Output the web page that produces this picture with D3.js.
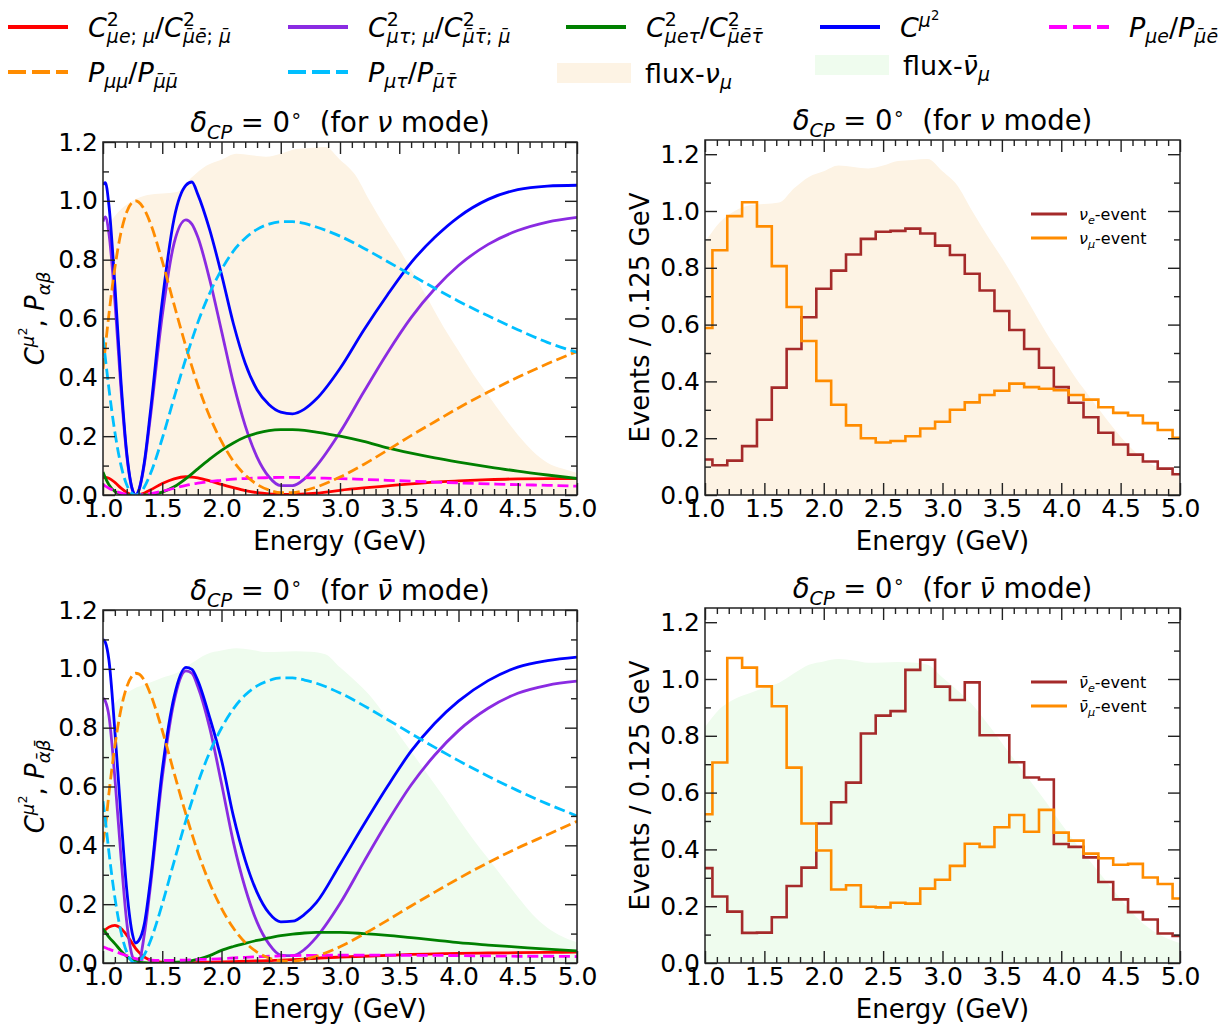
<!DOCTYPE html>
<html><head><meta charset="utf-8">
<script src="https://cdn.jsdelivr.net/npm/d3@7/dist/d3.min.js"></script>
<style>html,body{margin:0;padding:0;background:#fff}svg{display:block}</style>
</head><body>
<svg id="chart" width="1232" height="1032"></svg>
<script>
// ================= DATA =================
const energyGrid = [1.0,1.02,1.05,1.1,1.15,1.2,1.25,1.275,1.3,1.35,1.4,1.5,1.6,1.7,1.75,1.8,1.9,2.0,2.1,2.2,2.3,2.4,2.5,2.6,2.7,2.8,3.0,3.2,3.4,3.6,3.8,4.0,4.25,4.5,4.75,5.0];

// neutrino mode
const nuC2mue   = [0.059,0.060,0.057,0.043,0.024,0.009,0.001,0.000,0.001,0.007,0.017,0.039,0.055,0.062,0.061,0.058,0.048,0.036,0.025,0.015,0.008,0.004,0.002,0.002,0.004,0.006,0.016,0.024,0.031,0.038,0.044,0.048,0.052,0.055,0.056,0.056];
const nuC2mutau = [0.930,0.945,0.890,0.661,0.370,0.136,0.015,0.000,0.013,0.108,0.265,0.610,0.856,0.935,0.921,0.877,0.733,0.558,0.381,0.236,0.129,0.062,0.032,0.032,0.055,0.098,0.213,0.350,0.483,0.603,0.701,0.780,0.852,0.899,0.928,0.944];
const nuC2etau  = [0.078,0.058,0.035,0.012,0.003,0.000,0.000,0.000,0.000,0.000,0.001,0.010,0.028,0.056,0.072,0.089,0.122,0.152,0.177,0.197,0.210,0.219,0.222,0.222,0.220,0.214,0.200,0.182,0.160,0.142,0.126,0.112,0.096,0.081,0.068,0.056];
const nuCmu2    = [1.055,1.062,0.985,0.716,0.397,0.145,0.016,0.000,0.014,0.115,0.283,0.659,0.940,1.053,1.064,1.022,0.902,0.750,0.583,0.448,0.358,0.308,0.282,0.276,0.292,0.326,0.430,0.560,0.680,0.790,0.876,0.945,1.005,1.038,1.050,1.053];
const nuPmue    = [0.035,0.030,0.023,0.014,0.007,0.002,0.000,0.000,0.000,0.002,0.005,0.013,0.023,0.033,0.037,0.040,0.046,0.050,0.054,0.056,0.058,0.059,0.060,0.060,0.059,0.058,0.056,0.053,0.050,0.047,0.044,0.041,0.038,0.035,0.033,0.030];
const nuPmumu   = [0.428,0.504,0.614,0.772,0.889,0.962,0.996,1.000,0.996,0.970,0.924,0.795,0.647,0.504,0.437,0.374,0.267,0.182,0.115,0.068,0.036,0.017,0.008,0.008,0.015,0.027,0.061,0.104,0.152,0.202,0.249,0.296,0.350,0.400,0.446,0.488];
const nuPmutau  = [0.536,0.465,0.362,0.214,0.104,0.035,0.004,0.000,0.003,0.028,0.072,0.192,0.331,0.465,0.527,0.586,0.686,0.766,0.829,0.873,0.903,0.921,0.929,0.929,0.923,0.911,0.880,0.839,0.794,0.748,0.703,0.659,0.609,0.562,0.519,0.485];

// antineutrino mode
const nbC2mue   = [0.105,0.113,0.122,0.128,0.118,0.095,0.065,0.050,0.038,0.020,0.010,0.003,0.001,0.001,0.001,0.002,0.003,0.004,0.005,0.006,0.007,0.008,0.010,0.011,0.013,0.016,0.020,0.023,0.026,0.029,0.031,0.033,0.034,0.035,0.036,0.037];
const nbC2mutau = [0.900,0.890,0.840,0.630,0.370,0.140,0.020,0.006,0.004,0.100,0.260,0.630,0.890,0.993,0.985,0.940,0.800,0.610,0.411,0.255,0.139,0.065,0.027,0.025,0.046,0.087,0.202,0.343,0.480,0.605,0.707,0.790,0.866,0.917,0.944,0.958];
const nbC2etau  = [0.117,0.105,0.088,0.066,0.042,0.022,0.009,0.005,0.003,0.001,0.000,0.000,0.002,0.005,0.008,0.012,0.025,0.043,0.056,0.067,0.077,0.085,0.093,0.098,0.102,0.104,0.104,0.100,0.094,0.086,0.078,0.069,0.061,0.054,0.047,0.041];
const nbCmu2    = [1.100,1.090,1.030,0.790,0.510,0.250,0.095,0.068,0.075,0.135,0.280,0.655,0.905,1.005,0.998,0.960,0.835,0.690,0.500,0.350,0.240,0.170,0.140,0.142,0.165,0.205,0.335,0.470,0.600,0.720,0.815,0.890,0.960,1.006,1.028,1.040];
const nbPmue    = [0.055,0.052,0.047,0.040,0.032,0.025,0.018,0.015,0.013,0.011,0.010,0.009,0.009,0.010,0.011,0.012,0.013,0.015,0.017,0.019,0.021,0.023,0.024,0.025,0.026,0.026,0.027,0.027,0.027,0.026,0.026,0.025,0.024,0.023,0.023,0.022];
const nbPmumu   = [0.410,0.463,0.576,0.737,0.859,0.938,0.978,0.985,0.983,0.960,0.915,0.791,0.646,0.505,0.439,0.377,0.271,0.186,0.119,0.070,0.037,0.017,0.007,0.006,0.012,0.023,0.055,0.098,0.145,0.194,0.241,0.287,0.341,0.391,0.436,0.482];
const nbPmutau  = [0.550,0.485,0.377,0.223,0.109,0.037,0.004,0.000,0.004,0.029,0.075,0.200,0.345,0.485,0.550,0.611,0.716,0.799,0.864,0.911,0.942,0.960,0.969,0.969,0.962,0.951,0.918,0.875,0.828,0.780,0.733,0.688,0.635,0.586,0.541,0.500];

// event histograms (centre of each 0.125 GeV bin)
const binCenters = [1.0,1.125,1.25,1.375,1.5,1.625,1.75,1.875,2.0,2.125,2.25,2.375,2.5,2.625,2.75,2.875,3.0,3.125,3.25,3.375,3.5,3.625,3.75,3.875,4.0,4.125,4.25,4.375,4.5,4.625,4.75,4.875,5.0];
const nuEventsE    = [0.125,0.105,0.121,0.172,0.265,0.378,0.514,0.626,0.726,0.790,0.847,0.902,0.927,0.930,0.938,0.921,0.878,0.845,0.779,0.720,0.648,0.581,0.514,0.448,0.380,0.325,0.274,0.219,0.178,0.142,0.118,0.093,0.073];
const nuEventsMu   = [0.588,0.862,0.982,1.031,0.946,0.806,0.662,0.542,0.402,0.318,0.245,0.200,0.185,0.190,0.207,0.234,0.258,0.300,0.326,0.352,0.367,0.392,0.380,0.374,0.369,0.352,0.336,0.309,0.289,0.280,0.253,0.229,0.201];
const nbEventsE    = [0.334,0.234,0.181,0.106,0.107,0.161,0.271,0.336,0.491,0.566,0.635,0.808,0.871,0.887,1.032,1.068,0.973,0.926,0.988,0.802,0.802,0.707,0.653,0.646,0.419,0.409,0.372,0.285,0.224,0.179,0.153,0.104,0.095];
const nbEventsMu   = [0.524,0.706,1.074,1.040,0.974,0.904,0.688,0.491,0.396,0.259,0.274,0.198,0.196,0.212,0.209,0.262,0.293,0.342,0.420,0.409,0.478,0.521,0.462,0.539,0.459,0.431,0.385,0.369,0.346,0.349,0.301,0.278,0.227];

// fluxes (arbitrary normalisation, same energy points)
const fluxNu    = [0.89,0.96,1.00,1.02,1.025,1.03,1.08,1.12,1.14,1.16,1.155,1.15,1.16,1.176,1.18,1.183,1.14,1.09,1.00,0.915,0.835,0.75,0.66,0.57,0.49,0.41,0.34,0.27,0.205,0.15,0.11,0.09,0.075];
const fluxNubar = [0.83,0.895,0.93,0.95,0.97,0.987,1.02,1.05,1.062,1.07,1.065,1.057,1.058,1.06,1.058,1.05,1.005,0.96,0.91,0.845,0.775,0.705,0.635,0.565,0.49,0.42,0.355,0.29,0.225,0.165,0.12,0.09,0.07];

// ticks
const xMajorTicks = [1.0,1.5,2.0,2.5,3.0,3.5,4.0,4.5,5.0];
const xMinorTicks = [1.1,1.2,1.3,1.4,1.6,1.7,1.8,1.9,2.1,2.2,2.3,2.4,2.6,2.7,2.8,2.9,3.1,3.2,3.3,3.4,3.6,3.7,3.8,3.9,4.1,4.2,4.3,4.4,4.6,4.7,4.8,4.9];
const yMajorTicks = [0.0,0.2,0.4,0.6,0.8,1.0,1.2];
const yMinorTicks = [0.1,0.3,0.5,0.7,0.9,1.1];

// ================= DRAWING =================
const FONT = "'DejaVu Sans', 'Liberation Sans', sans-serif";
const svg = d3.select('#chart');
const COL = {red:'#ff0000', purple:'#8a2be2', green:'#008000', blue:'#0000ff', magenta:'#ff00ff', orange:'#ff8c00', cyan:'#00bfff', brown:'#a52a2a', fluxNu:'#fdf3e4', fluxNubar:'#effcee'};
const DASH = '11,4.8';

// simple math-text layout with italic, sub/superscripts
function mtext(parent, x, y, tokens, size, anchor) {
  const t = parent.append('text').attr('x', x).attr('y', y)
    .attr('font-family', FONT).attr('font-size', size).attr('fill', '#000')
    .style('white-space', 'pre');
  let cur = 0, pend = 0;
  function add(str, ital, fs, off) {
    const sp = t.append('tspan').text(str).attr('font-size', fs)
      .attr('font-style', ital ? 'italic' : 'normal');
    if (off !== cur) { sp.attr('dy', off - cur); cur = off; }
    if (pend) { sp.attr('dx', pend); pend = 0; }
    return sp.node().getComputedTextLength();
  }
  function run(list, fs, off) {
    let w = 0;
    for (const tk of list) {
      if (tk.i !== undefined) w += add(tk.i, true, fs, off);
      else if (tk.r !== undefined) w += add(tk.r, false, fs, off);
      else {
        const sfs = fs * 0.7;
        let ws = 0, wb = 0;
        if (tk.sup) ws = run(tk.sup, sfs, off - fs * (tk.sub ? 0.42 : 0.38));
        if (tk.sub) { if (tk.sup) pend -= ws; wb = run(tk.sub, sfs, off + fs * 0.24); }
        const m = Math.max(ws, wb);
        if (tk.sup && tk.sub) pend += m - wb;
        w += m;
      }
    }
    return w;
  }
  const w = run(tokens, size, 0);
  if (anchor === 'middle') t.attr('x', x - w / 2);
  else if (anchor === 'end') t.attr('x', x - w);
  return t;
}

const MB = '\u0304'; // combining macron
const panels = [
  {x0:103, x1:577, y0:142, y1:495, ymax:1.2,  kind:'curves', mode:'nu'},
  {x0:705, x1:1180, y0:140, y1:495, ymax:1.25, kind:'hist', mode:'nu'},
  {x0:103, x1:577, y0:610, y1:963, ymax:1.2,  kind:'curves', mode:'nb'},
  {x0:705, x1:1180, y0:608, y1:963, ymax:1.25, kind:'hist', mode:'nb'}
];

panels.forEach((p, idx) => {
  const g = svg.append('g');
  const x = d3.scaleLinear([1, 5], [p.x0, p.x1]);
  const y = d3.scaleLinear([0, p.ymax], [p.y1, p.y0]);
  const cid = 'clip' + idx;
  svg.append('clipPath').attr('id', cid).append('rect')
    .attr('x', p.x0).attr('y', p.y0).attr('width', p.x1 - p.x0).attr('height', p.y1 - p.y0);
  const plot = g.append('g').attr('clip-path', `url(#${cid})`);

  // flux area
  const flux = p.mode === 'nu' ? fluxNu : fluxNubar;
  const area = d3.area().x((d, i) => x(binCenters[i])).y0(y(0)).y1(d => y(d)).curve(d3.curveMonotoneX);
  plot.append('path').attr('d', area(flux)).attr('fill', p.mode === 'nu' ? COL.fluxNu : COL.fluxNubar);

  if (p.kind === 'curves') {
    const series = p.mode === 'nu'
      ? [[nuC2mue, COL.red, null], [nuC2mutau, COL.purple, null], [nuC2etau, COL.green, null], [nuCmu2, COL.blue, null],
         [nuPmue, COL.magenta, DASH], [nuPmumu, COL.orange, DASH], [nuPmutau, COL.cyan, DASH]]
      : [[nbC2mue, COL.red, null], [nbC2mutau, COL.purple, null], [nbC2etau, COL.green, null], [nbCmu2, COL.blue, null],
         [nbPmue, COL.magenta, DASH], [nbPmumu, COL.orange, DASH], [nbPmutau, COL.cyan, DASH]];
    const line = d3.line().x((d, i) => x(energyGrid[i])).y(d => y(d)).curve(d3.curveMonotoneX);
    series.forEach(([vals, c, dash]) => {
      const path = plot.append('path').attr('d', line(vals)).attr('fill', 'none')
        .attr('stroke', c).attr('stroke-width', 2.8).attr('stroke-linejoin', 'round');
      if (dash) path.attr('stroke-dasharray', dash);
    });
  } else {
    const ev = p.mode === 'nu' ? [nuEventsE, nuEventsMu] : [nbEventsE, nbEventsMu];
    const step = d3.line().x((d, i) => x(binCenters[i])).y(d => y(d)).curve(d3.curveStep);
    [[ev[0], COL.brown], [ev[1], COL.orange]].forEach(([vals, c]) => {
      plot.append('path').attr('d', step(vals)).attr('fill', 'none')
        .attr('stroke', c).attr('stroke-width', 2.6).attr('stroke-linejoin', 'miter');
    });
    // legend inside
    const lg = g.append('g');
    const ly = p.y0 + 74;
    const labels = p.mode === 'nu'
      ? [[[{i:'ν'},{sub:[{i:'e'}]},{r:'-event'}], COL.brown], [[{i:'ν'},{sub:[{i:'μ'}]},{r:'-event'}], COL.orange]]
      : [[[{i:'ν'+MB},{sub:[{i:'e'}]},{r:'-event'}], COL.brown], [[{i:'ν'+MB},{sub:[{i:'μ'}]},{r:'-event'}], COL.orange]];
    labels.forEach(([tk, c], k) => {
      const yy = ly + k * 24;
      lg.append('line').attr('x1', 1031).attr('x2', 1067).attr('y1', yy).attr('y2', yy)
        .attr('stroke', c).attr('stroke-width', 3);
      mtext(lg, 1079, yy + 6, tk, 16, 'start');
    });
  }

  // axes
  function styleAxis(sel) {
    sel.select('.domain').remove();
    sel.selectAll('.tick line').attr('stroke', '#222').attr('stroke-width', 1.4);
    sel.selectAll('.tick text').attr('font-family', FONT).attr('font-size', 25).attr('fill', '#000');
    sel.attr('font-size', null).attr('font-family', null);
  }
  const ax = g.append('g');
  ax.append('g').attr('transform', `translate(0,${p.y1})`).call(d3.axisBottom(x).tickValues(xMinorTicks).tickSize(-6).tickFormat('')).call(styleAxis);
  ax.append('g').attr('transform', `translate(0,${p.y1})`).call(d3.axisBottom(x).tickValues(xMajorTicks).tickSize(-12).tickPadding(4).tickFormat(d3.format('.1f'))).call(styleAxis);
  ax.append('g').attr('transform', `translate(0,${p.y0})`).call(d3.axisTop(x).tickValues(xMinorTicks).tickSize(-6).tickFormat('')).call(styleAxis);
  ax.append('g').attr('transform', `translate(0,${p.y0})`).call(d3.axisTop(x).tickValues(xMajorTicks).tickSize(-12).tickFormat('')).call(styleAxis);
  ax.append('g').attr('transform', `translate(${p.x0},0)`).call(d3.axisLeft(y).tickValues(yMinorTicks).tickSize(-6).tickFormat('')).call(styleAxis);
  ax.append('g').attr('transform', `translate(${p.x0},0)`).call(d3.axisLeft(y).tickValues(yMajorTicks).tickSize(-12).tickPadding(5).tickFormat(d3.format('.1f'))).call(styleAxis);
  ax.append('g').attr('transform', `translate(${p.x1},0)`).call(d3.axisRight(y).tickValues(yMinorTicks).tickSize(-6).tickFormat('')).call(styleAxis);
  ax.append('g').attr('transform', `translate(${p.x1},0)`).call(d3.axisRight(y).tickValues(yMajorTicks).tickSize(-12).tickFormat('')).call(styleAxis);
  g.append('rect').attr('x', p.x0).attr('y', p.y0).attr('width', p.x1 - p.x0).attr('height', p.y1 - p.y0)
    .attr('fill', 'none').attr('stroke', '#222').attr('stroke-width', 1.5);

  // title
  const cx = (p.x0 + p.x1) / 2;
  const nuTok = p.mode === 'nu' ? 'ν' : 'ν' + MB;
  mtext(g, cx, p.y0 - 10, [{i:'δ'},{sub:[{i:'CP'}]},{r:' = 0'},{sup:[{r:'∘'}]},{r:'  (for '},{i:nuTok},{r:' mode)'}], 27.5, 'middle');
  // x label
  mtext(g, cx, p.y1 + 55, [{r:'Energy (GeV)'}], 26, 'middle');
  // y label
  const cy = (p.y0 + p.y1) / 2;
  if (p.kind === 'curves') {
    const yl = g.append('g').attr('transform', `translate(44,${cy}) rotate(-90)`);
    const sub = p.mode === 'nu' ? [{i:'αβ'}] : [{i:'α'+MB+'β'+MB}];
    mtext(yl, 0, 0, [{i:'C'},{sup:[{i:'μ'},{sup:[{r:'2'}]}]},{r:', '},{i:'P'},{sub:sub}], 26, 'middle');
  } else {
    const yl = g.append('g').attr('transform', `translate(649,${cy}) rotate(-90)`);
    mtext(yl, 0, 0, [{r:'Events / 0.125 GeV'}], 26, 'middle');
  }
});

// ================= TOP LEGEND =================
const leg = svg.append('g');
const bar = 'μ' + MB, ebar = 'e' + MB, tbar = 'τ' + MB;
const legendItems = [
  {x:8,   y:27, type:'line', c:COL.red,    tk:[{i:'C'},{sup:[{r:'2'}],sub:[{i:'μe'},{r:';'},{i:' μ'}]},{r:'/'},{i:'C'},{sup:[{r:'2'}],sub:[{i:bar+ebar},{r:';'},{i:' '+bar}]}]},
  {x:288, y:27, type:'line', c:COL.purple, tk:[{i:'C'},{sup:[{r:'2'}],sub:[{i:'μτ'},{r:';'},{i:' μ'}]},{r:'/'},{i:'C'},{sup:[{r:'2'}],sub:[{i:bar+tbar},{r:';'},{i:' '+bar}]}]},
  {x:566, y:27, type:'line', c:COL.green,  tk:[{i:'C'},{sup:[{r:'2'}],sub:[{i:'μeτ'}]},{r:'/'},{i:'C'},{sup:[{r:'2'}],sub:[{i:bar+ebar+tbar}]}]},
  {x:820, y:27, type:'line', c:COL.blue,   tk:[{i:'C'},{sup:[{i:'μ'},{sup:[{r:'2'}]}]}]},
  {x:1049, y:27, type:'dash', c:COL.magenta, tk:[{i:'P'},{sub:[{i:'μe'}]},{r:'/'},{i:'P'},{sub:[{i:bar+ebar}]}]},
  {x:8,   y:72, type:'dash', c:COL.orange, tk:[{i:'P'},{sub:[{i:'μμ'}]},{r:'/'},{i:'P'},{sub:[{i:bar+bar}]}]},
  {x:288, y:72, type:'dash', c:COL.cyan,   tk:[{i:'P'},{sub:[{i:'μτ'}]},{r:'/'},{i:'P'},{sub:[{i:bar+tbar}]}]},
  {x:557, y:73, type:'patch', c:COL.fluxNu,   tk:[{r:'flux-'},{i:'ν'},{sub:[{i:'μ'}]}]},
  {x:815, y:65, type:'patch', c:COL.fluxNubar, tk:[{r:'flux-'},{i:'ν'+MB},{sub:[{i:'μ'}]}]}
];
legendItems.forEach(it => {
  if (it.type === 'patch') {
    leg.append('rect').attr('x', it.x).attr('y', it.y - 10).attr('width', 74).attr('height', 20).attr('fill', it.c);
  } else {
    const l = leg.append('line').attr('x1', it.x).attr('x2', it.x + 60).attr('y1', it.y).attr('y2', it.y)
      .attr('stroke', it.c).attr('stroke-width', 4);
    if (it.type === 'dash') l.attr('stroke-dasharray', '18,6');
  }
  mtext(leg, it.x + (it.type === 'patch' ? 88 : 80), it.y + 10, it.tk, 27, 'start');
});
</script>
</body></html>
